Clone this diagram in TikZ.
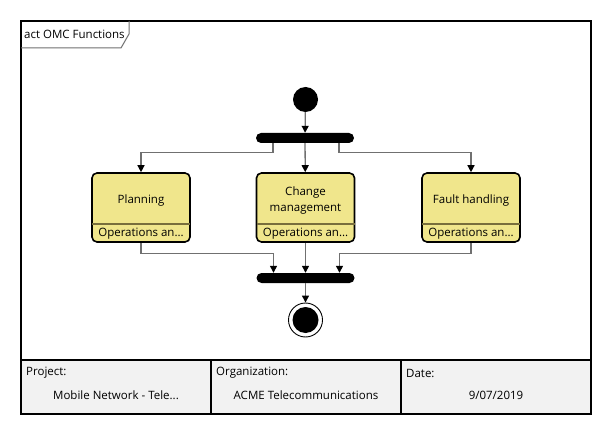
\documentclass[tikz,border=0pt]{standalone}
\usepackage{fontspec}
\setmainfont{Open Sans}
\usetikzlibrary{arrows.meta}
\definecolor{actfill}{RGB}{240,230,140}
\definecolor{actsplit}{RGB}{120,110,60}
\definecolor{flowgrey}{RGB}{112,112,112}
\definecolor{tablefill}{RGB}{242,242,242}
\tikzset{
  frameline/.style={line width=2pt},
  tabline/.style={draw=flowgrey, line width=1pt},
  flow/.style={draw=flowgrey, line width=1.3pt, -{Triangle[length=7pt,width=7pt,color=black]}},
  initial/.style={circle, fill=black, minimum size=25pt, inner sep=0pt},
  final/.style={circle, draw=black, line width=0.9pt, minimum size=34pt, inner sep=0pt,
    path picture={\fill (path picture bounding box.center) circle (13pt);}},
  forkbar/.style={rectangle, rounded corners=5pt, fill=black, minimum width=98pt, minimum height=10pt, inner sep=0pt},
  action/.style={rectangle, rounded corners=5pt, draw=black, line width=1.6pt, fill=actfill,
    minimum width=98pt, minimum height=69pt, inner sep=0pt},
  cell/.style={inner sep=0pt},
  actionbox/.pic={
    \node[action] (-box) at (0,0) {};
    \draw[actsplit, line width=1.5pt] ([xshift=0.8pt]-box.west |- 0,16.5) -- ([xshift=-0.8pt]-box.east |- 0,16.5);
    \node[align=center, inner sep=0pt] (-name) at (0,-7) {#1};
    \node[inner sep=0pt] (-part) at (0,26.5) {Operations an...};
  }
}

\begin{document}
\begin{tikzpicture}[x=1pt, y=-1pt, font=\fontsize{11.5}{16.5}\selectfont]
  \useasboundingbox (0,0) rectangle (612,435);
  \fill[white] (0,0) rectangle (612,435);
  \fill[tablefill] (21,360) rectangle (591,414);
  \draw[frameline] (21,21) rectangle (591,414);
  \draw[frameline] (21,360) -- (591,360);
  \draw[frameline] (211,360) -- (211,414);
  \draw[frameline] (401,360) -- (401,414);

  \node[anchor=west, inner sep=0pt] (title) at (24,34) {act OMC Functions};
  \draw[tabline] (21,48) -- (121,48) -- (129,34) -- (129,21);

  \node[initial] (start) at (305.5,99.5) {};
  \node[forkbar] (fork) at (305,138) {};
  \pic (plan) at (141,207.5) {actionbox={Planning}};
  \pic (change) at (305.5,207.5) {actionbox={Change\\management}};
  \pic (fault) at (471,207.5) {actionbox={Fault handling}};
  \node[forkbar] (join) at (305.5,278) {};
  \node[final] (end) at (305.5,320) {};

  \draw[flow] (start) -- (fork);
  \draw[flow] ([xshift=-32pt]fork.south) -- ++(0,9) -| (plan-box.north);
  \draw[flow] (fork) -- (change-box);
  \draw[flow] ([xshift=34pt]fork.south) -- ++(0,9) -| (fault-box.north);
  \draw[flow] (plan-box.south) -- ++(0,11) -| ([xshift=-32pt]join.north);
  \draw[flow] (change-box) -- (join);
  \draw[flow] (fault-box.south) -- ++(0,11) -| ([xshift=34pt]join.north);
  \draw[flow] (join) -- (end);

  \node[cell, anchor=west] (project) at (26,373) {Project:};
  \node[cell] (projectval) at (116,395) {Mobile Network - Tele...};
  \node[cell, anchor=west] (org) at (216,373) {Organization:};
  \node[cell] (orgval) at (306,395) {ACME Telecommunications};
  \node[cell, anchor=west] (date) at (406,373) {Date:};
  \node[cell] (dateval) at (496,395) {9/07/2019};
\end{tikzpicture}
\end{document}
